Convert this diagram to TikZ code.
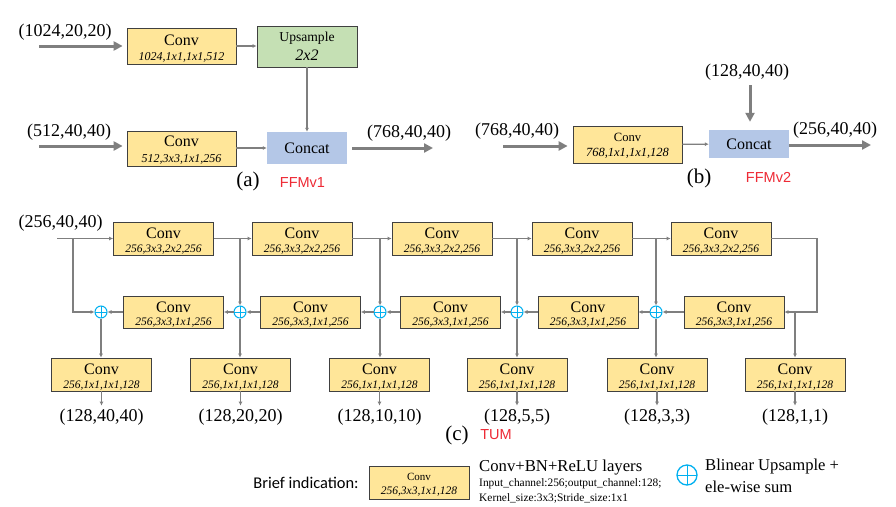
\documentclass[tikz,border=0pt]{standalone}
\usepackage{fontspec}
\setmainfont{Liberation Serif}
\newfontfamily\carl{Carlito}
\newfontfamily\arl{Liberation Sans}
\usetikzlibrary{arrows.meta}
\definecolor{convY}{HTML}{FFE699}
\definecolor{upG}{HTML}{C5E0B4}
\definecolor{catB}{HTML}{B4C7E7}
\definecolor{lnG}{HTML}{7F7F7F}
\definecolor{plusC}{HTML}{00B0F0}
\definecolor{redT}{HTML}{EE2A35}
\newcommand\convnode[6]{%
  \node[cbox,#2] (#1) at (#3) {};
  \node[ctitle] (#1t) at ([yshift=#5]#1.center) {Conv};
  \node[cparam] (#1p) at ([yshift=#6]#1.center) {#4};}
\begin{document}
\begin{tikzpicture}[x=1pt,y=-1pt,
  cbox/.style={draw=black!75,line width=0.8pt,fill=convY,minimum width=100pt,minimum height=33pt,inner sep=0pt},
  ctitle/.style={anchor=base,inner sep=0pt,font=\fontsize{16}{16}\selectfont},
  cparam/.style={anchor=base,inner sep=0pt,font=\fontsize{11.5}{12}\selectfont\itshape},
  thinar/.style={draw=lnG,line width=1.3pt,-{Latex[length=4pt,width=4pt]}},
  thinln/.style={draw=lnG,line width=1.3pt},
  thickar/.style={draw=lnG,line width=3pt,-{Triangle[length=9pt,width=9pt]}},
  lbl/.style={inner sep=0pt,font=\fontsize{18}{20}\selectfont},
  caplbl/.style={inner sep=0pt,font=\fontsize{21}{22}\selectfont},
  redlbl/.style={inner sep=0pt,text=redT,font=\arl\fontsize{14.5}{16}\selectfont},
  oplus/.style={circle,draw=plusC,fill=white,line width=1pt,minimum size=12pt,inner sep=0pt,
    path picture={\draw[plusC,line width=1pt] (path picture bounding box.north)--(path picture bounding box.south) (path picture bounding box.west)--(path picture bounding box.east);}}
]
\useasboundingbox[fill=white] (0,0) rectangle (896,506);

% ---------------- (a) FFMv1 ----------------
\begin{scope}[ctitle/.append style={font=\fontsize{16}{16}\selectfont},
              cparam/.append style={font=\fontsize{12}{12}\selectfont\itshape}]
\convnode{a1}{minimum width=109pt,minimum height=36pt}{181.5,46}{1024,1x1,1x1,512}{1pt}{-14pt}
\convnode{a2}{minimum width=109pt,minimum height=35pt}{181.5,148.5}{512,3x3,1x1,256}{2pt}{-13.5pt}
\end{scope}
\node[draw=black!75,line width=0.8pt,fill=upG,minimum width=100pt,minimum height=41pt,inner sep=0pt] (up) at (307,46.5) {};
\node[anchor=base,inner sep=0pt,font=\fontsize{13.6}{14}\selectfont] (upt) at ([yshift=5pt]up.center) {Upsample};
\node[anchor=base,inner sep=0pt,font=\fontsize{16}{16}\selectfont\itshape] (upp) at ([yshift=-13.5pt]up.center) {2x2};
\node[fill=catB,minimum width=80pt,minimum height=32pt,inner sep=0pt,font=\fontsize{16}{16}\selectfont] (cc) at (307,148) {Concat};

\node[lbl] (la1) at (65,32.5) {(1024,20,20)};
\node[lbl] (la2) at (69,132) {(512,40,40)};
\node[lbl] (la3) at (409,133) {(768,40,40)};
\coordinate (ia1) at (39,46);
\coordinate (ia2) at (39,146);
\coordinate (oa) at (433,148);
\draw[thickar,shorten >=4pt] (ia1) -- (ia1 -| a1.west);
\draw[thickar,shorten >=4pt] (ia2) -- (ia2 -| a2.west);
\draw[thinar] (a1) -- (a1 -| up.west);
\draw[thinar] (up) -- (cc);
\draw[thinar] (a2.east |- cc) -- (cc);
\draw[thickar,shorten <=5pt] (cc) -- (oa);
\node[caplbl] (capa) at (248,181) {(a)};
\node[redlbl] (ffm1) at (302.5,183) {FFMv1};

% ---------------- (b) FFMv2 ----------------
\begin{scope}[ctitle/.append style={font=\fontsize{12.6}{13}\selectfont},
              cparam/.append style={font=\fontsize{12.5}{13}\selectfont\itshape}]
\convnode{bc}{minimum width=109pt,minimum height=37pt}{627.5,144.5}{768,1x1,1x1,128}{3pt}{-12pt}
\end{scope}
\node[fill=catB,minimum width=80pt,minimum height=28pt,inner sep=0pt,font=\fontsize{16}{16}\selectfont] (cb) at (749,144) {Concat};
\node[lbl] (lb1) at (747,72) {(128,40,40)};
\node[lbl] (lb2) at (517,131) {(768,40,40)};
\node[lbl] (lb3) at (835,130) {(256,40,40)};
\coordinate (ib1) at (503,146);
\coordinate (ib2) at (750,85);
\coordinate (ob) at (871,145);
\draw[thickar,shorten >=5pt] (ib1) -- (ib1 -| bc.west);
\draw[thickar,shorten >=8pt] (ib2) -- (ib2 |- cb.north);
\draw[thinar] (bc) -- (cb);
\draw[thickar] (cb.east |- ob) -- (ob);
\node[caplbl] (capb) at (699,178) {(b)};
\node[redlbl] (ffm2) at (768.5,177) {FFMv2};

% ---------------- (c) TUM ----------------
\convnode{t1}{}{163.5,238.5}{256,3x3,2x2,256}{0pt}{-13.8pt}
\convnode{t2}{}{302,238.5}{256,3x3,2x2,256}{0pt}{-13.8pt}
\convnode{t3}{}{442,238.5}{256,3x3,2x2,256}{0pt}{-13.8pt}
\convnode{t4}{}{582,238.5}{256,3x3,2x2,256}{0pt}{-13.8pt}
\convnode{t5}{}{721,238.5}{256,3x3,2x2,256}{0pt}{-13.8pt}

\convnode{m1}{minimum height=32pt}{173.5,312}{256,3x3,1x1,256}{0pt}{-13.5pt}
\convnode{m2}{minimum height=32pt}{310.5,312}{256,3x3,1x1,256}{0pt}{-13.5pt}
\convnode{m3}{minimum height=32pt}{450.5,312}{256,3x3,1x1,256}{0pt}{-13.5pt}
\convnode{m4}{minimum height=32pt}{588,312}{256,3x3,1x1,256}{0pt}{-13.5pt}
\convnode{m5}{minimum height=32pt}{734,312}{256,3x3,1x1,256}{0pt}{-13.5pt}

\convnode{b1}{}{101.5,374.5}{256,1x1,1x1,128}{0pt}{-13.8pt}
\convnode{b2}{}{240.5,374.5}{256,1x1,1x1,128}{0pt}{-13.8pt}
\convnode{b3}{}{379.5,374.5}{256,1x1,1x1,128}{0pt}{-13.8pt}
\convnode{b4}{}{517,374.5}{256,1x1,1x1,128}{0pt}{-13.8pt}
\convnode{b5}{}{657,374.5}{256,1x1,1x1,128}{0pt}{-13.8pt}
\convnode{b6}{}{795,374.5}{256,1x1,1x1,128}{0pt}{-13.8pt}

\node[oplus] (p1) at (101,312) {};
\node[oplus] (p2) at (240,312) {};
\node[oplus] (p3) at (380,312) {};
\node[oplus] (p4) at (517,312) {};
\node[oplus] (p5) at (656,312) {};

\node[lbl] (lc0) at (60.5,223) {(256,40,40)};
\coordinate (ic) at (57,238.5);
\coordinate (j1) at (73,238.5);
\coordinate (j2) at (p2 |- t1.east);
\coordinate (j3) at (p3 |- t1.east);
\coordinate (j4) at (p4 |- t1.east);
\coordinate (j5) at (p5 |- t1.east);
\coordinate (r1) at (817,238.5);
\coordinate (r2) at (817,312);
\coordinate (j6) at (795,312);

\draw[thinar] (ic) -- (t1);
\draw[thinar] (t1) -- (t2);
\draw[thinar] (t2) -- (t3);
\draw[thinar] (t3) -- (t4);
\draw[thinar] (t4) -- (t5);
\draw[thinar] (j1) -- (j1 |- p1) -- (p1);
\draw[thinar] (j2) -- (p2);
\draw[thinar] (j3) -- (p3);
\draw[thinar] (j4) -- (p4);
\draw[thinar] (j5) -- (p5);
\draw[thinar] (t5.east) -- (r1) -- (r2) -- (m5.east);
\draw[thinar] (m1) -- (p1);
\draw[thinar] (m2) -- (p2);
\draw[thinar] (m3) -- (p3);
\draw[thinar] (m4) -- (p4);
\draw[thinar] (m5) -- (p5);
\draw[thinar] (p2) -- (m1);
\draw[thinar] (p3) -- (m2);
\draw[thinar] (p4) -- (m3);
\draw[thinar] (p5) -- (m4);
\draw[thinar] (p1) -- (p1 |- b1.north);
\draw[thinar] (p2) -- (p2 |- b2.north);
\draw[thinar] (p3) -- (p3 |- b3.north);
\draw[thinar] (p4) -- (p4 |- b4.north);
\draw[thinar] (p5) -- (p5 |- b5.north);
\draw[thinar] (j6) -- (j6 |- b6.north);

\node[lbl] (o1) at (101.5,417) {(128,40,40)};
\node[lbl] (o2) at (240.5,417) {(128,20,20)};
\node[lbl] (o3) at (379.5,417) {(128,10,10)};
\node[lbl] (o4) at (517,417) {(128,5,5)};
\node[lbl] (o5) at (657,417) {(128,3,3)};
\node[lbl] (o6) at (795,417) {(128,1,1)};
\foreach \k in {1,...,6}{
  \draw[thinar,shorten >=3pt] (b\k.south) -- (b\k.south |- o\k.north);
}
\node[caplbl] (capc) at (457,435) {(c)};
\node[redlbl] (tum) at (496,435) {TUM};

% ---------------- legend ----------------
\node[inner sep=0pt,font=\carl\fontsize{16.4}{18}\selectfont] (brief) at (306,483) {Brief indication:};
\begin{scope}[ctitle/.append style={font=\fontsize{11}{12}\selectfont},
              cparam/.append style={font=\fontsize{11.5}{12}\selectfont\itshape}]
\convnode{lg}{}{419,482.5}{256,3x3,1x1,128}{2.5pt}{-11.5pt}
\end{scope}
\node[anchor=west,inner sep=0pt,font=\fontsize{16.7}{18}\selectfont] (lg1) at (479,468) {Conv+BN+ReLU layers};
\node[anchor=west,inner sep=0pt,font=\fontsize{11.4}{12}\selectfont] (lg2) at (479,484) {Input\_channel:256;output\_channel:128;};
\node[anchor=west,inner sep=0pt,font=\fontsize{11.4}{12}\selectfont] (lg3) at (479,498) {Kernel\_size:3x3;Stride\_size:1x1};
\node[oplus,minimum size=20pt,line width=1.3pt] (lgp) at (687,475) {};
\node[anchor=west,inner sep=0pt,font=\fontsize{16.6}{18}\selectfont] (lg4) at (705,467) {Blinear Upsample +};
\node[anchor=west,inner sep=0pt,font=\fontsize{16.6}{18}\selectfont] (lg5) at (705,487) {ele-wise sum};
\end{tikzpicture}
\end{document}
